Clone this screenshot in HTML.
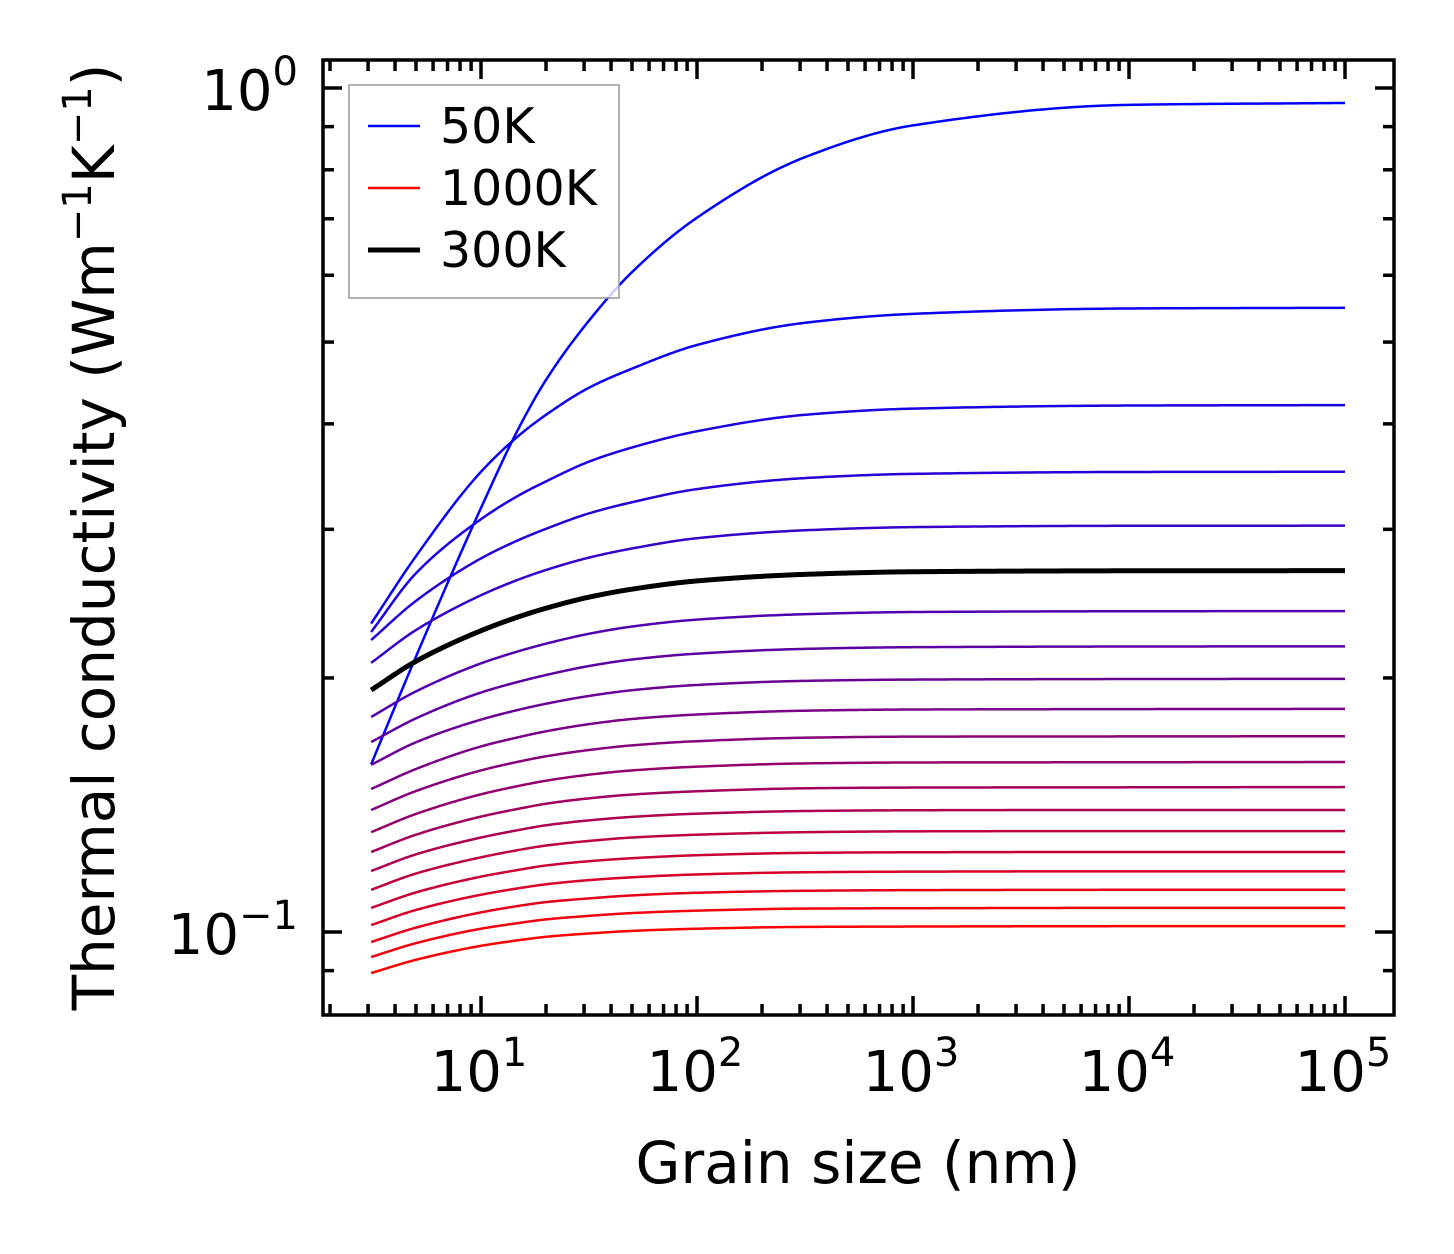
<!DOCTYPE html>
<html><head><meta charset="utf-8"><style>
body{margin:0;background:#fff;}
svg{display:block;font-family:"DejaVu Sans","Liberation Sans",sans-serif;}
</style></head><body>
<svg id="chart" width="1454" height="1254" viewBox="0 0 1454 1254" xmlns="http://www.w3.org/2000/svg">
<rect width="1454" height="1254" fill="#fff"/>
<g id="curves"></g>
<g id="axes"></g>
<g>
  <rect x="349" y="85" width="270" height="213" fill="#fff" fill-opacity="0.8" stroke="#999" stroke-width="1.5"/>
  <line x1="368" y1="126" x2="420" y2="126" stroke="#0000ff" stroke-width="2.5"/>
  <text x="440" y="143" font-size="49">50K</text>
  <line x1="368" y1="188" x2="420" y2="188" stroke="#ff0000" stroke-width="2.5"/>
  <text x="440" y="205" font-size="49">1000K</text>
  <line x1="368" y1="250" x2="420" y2="250" stroke="#000" stroke-width="5"/>
  <text x="440" y="267" font-size="49">300K</text>
</g>
<text x="858" y="1183" font-size="58" text-anchor="middle">Grain size (nm)</text>
<text transform="translate(114,537) rotate(-90)" font-size="58" text-anchor="middle">Thermal conductivity (Wm<tspan dy="-23" font-size="40">−1</tspan><tspan dy="23">K</tspan><tspan dy="-23" font-size="40">−1</tspan><tspan dy="23">)</tspan></text>
</svg>
<script>
// grain sizes (nm) at which each series is sampled
const grainSizes = [3.1, 5, 10, 15, 20, 31.6, 50, 100, 316, 1000, 10000, 100000];
// temperatures (K)
const temperatures = [50,100,150,200,250,300,350,400,450,500,550,600,650,700,750,800,850,900,950,1000];
const k50 = [0.158, 0.212, 0.318, 0.396, 0.451, 0.530, 0.605, 0.702, 0.828, 0.903, 0.955, 0.960];
const k100 = [0.232, 0.2788, 0.351, 0.3876, 0.410, 0.4414, 0.465, 0.496, 0.527, 0.540, 0.548, 0.549];
const k150 = [0.2267, 0.2661, 0.3084, 0.3292, 0.3419, 0.3608, 0.375, 0.392, 0.410, 0.417, 0.4205, 0.421];
const k200 = [0.2218, 0.2468, 0.2771, 0.2915, 0.3004, 0.3133, 0.323, 0.3348, 0.345, 0.349, 0.3508, 0.351];
const k250 = [0.2084, 0.2279, 0.2506, 0.2617, 0.2685, 0.2777, 0.2847, 0.2928, 0.2992, 0.3018, 0.3029, 0.303];
const k300 = [0.1935, 0.2093, 0.2275, 0.2364, 0.2419, 0.2493, 0.2548, 0.2606, 0.2653, 0.2672, 0.2679, 0.268];
const k350 = [0.1798, 0.1928, 0.2081, 0.2152, 0.2196, 0.2256, 0.2301, 0.2345, 0.238, 0.2394, 0.2399, 0.240];
const k400 = [0.1679, 0.1791, 0.1922, 0.1980, 0.2016, 0.2066, 0.2103, 0.2137, 0.2165, 0.2175, 0.2179, 0.218];
const k450 = [0.1578, 0.1678, 0.1785, 0.1834, 0.1864, 0.1904, 0.1934, 0.1962, 0.1984, 0.1991, 0.1994, 0.1995];
const k500 = [0.1477, 0.156, 0.1659, 0.1702, 0.1729, 0.1763, 0.1788, 0.181, 0.1829, 0.1835, 0.1837, 0.1838];
const k550 = [0.1395, 0.1469, 0.1554, 0.1592, 0.1615, 0.1643, 0.1664, 0.1683, 0.1699, 0.1704, 0.1705, 0.1706];
const k600 = [0.1313, 0.138, 0.1456, 0.1490, 0.1511, 0.1536, 0.1554, 0.157, 0.1584, 0.1588, 0.1589, 0.159];
const k650 = [0.1244, 0.1304, 0.137, 0.1400, 0.1419, 0.1440, 0.1455, 0.1468, 0.148, 0.1483, 0.1484, 0.1485];
const k700 = [0.1181, 0.1236, 0.1294, 0.1321, 0.1338, 0.1356, 0.1369, 0.1381, 0.1391, 0.1394, 0.1395, 0.1395];
const k750 = [0.1122, 0.1173, 0.1226, 0.1251, 0.1266, 0.1282, 0.1294, 0.1304, 0.1313, 0.1316, 0.1317, 0.1317];
const k800 = [0.1068, 0.1114, 0.1163, 0.1185, 0.1199, 0.1213, 0.1223, 0.1233, 0.1241, 0.1243, 0.1244, 0.1244];
const k850 = [0.1019, 0.1062, 0.1107, 0.1127, 0.1139, 0.1152, 0.1161, 0.117, 0.1177, 0.1179, 0.118, 0.118];
const k900 = [0.0973, 0.1012, 0.1055, 0.1074, 0.1085, 0.1096, 0.1105, 0.1113, 0.1119, 0.1121, 0.1122, 0.1122];
const k950 = [0.0934, 0.097, 0.1009, 0.1025, 0.1035, 0.1045, 0.1053, 0.106, 0.1066, 0.1067, 0.1068, 0.1068];
const k1000 = [0.0894, 0.0927, 0.0963, 0.0978, 0.0987, 0.0996, 0.1003, 0.1009, 0.1014, 0.1015, 0.1016, 0.1016];
const seriesValues = [k50,k100,k150,k200,k250,k300,k350,k400,k450,k500,k550,k600,k650,k700,k750,k800,k850,k900,k950,k1000];
const xTickLabels = ["1","2","3","4","5"];
const yTickLabels = ["−1","0"];

const NS = "http://www.w3.org/2000/svg";
const PL = 323, PR = 1394, PT = 60, PB = 1015;
function xScale(v){ return 481 + (Math.log10(v) - 1) * 216; }
function yScale(v){ return 88 - Math.log10(v) * 844; }
function mk(tag, attrs, parent){ const e = document.createElementNS(NS, tag); for (const k in attrs) e.setAttribute(k, attrs[k]); parent.appendChild(e); return e; }

// PCHIP (Fritsch-Butland) in log-log space
function curvePath(xs, ys){
  const X = xs.map(Math.log10), Y = ys.map(Math.log10), n = X.length;
  const h = [], d = [], m = [];
  for (let i=0;i<n-1;i++){ h.push(X[i+1]-X[i]); d.push((Y[i+1]-Y[i])/h[i]); }
  m[0] = d[0]; m[n-1] = d[n-2];
  for (let i=1;i<n-1;i++){
    if (d[i-1]*d[i] <= 0) m[i] = 0;
    else { const w1 = 2*h[i]+h[i-1], w2 = h[i]+2*h[i-1]; m[i] = (w1+w2)/(w1/d[i-1]+w2/d[i]); }
  }
  let p = "";
  for (let i=0;i<n-1;i++){
    for (let j=0;j<=40;j++){
      if (i>0 && j===0) continue;
      const t=j/40, t2=t*t, t3=t2*t;
      const y = (2*t3-3*t2+1)*Y[i] + (t3-2*t2+t)*h[i]*m[i] + (-2*t3+3*t2)*Y[i+1] + (t3-t2)*h[i]*m[i+1];
      const xx = X[i]+t*h[i];
      const px = 481 + (xx-1)*216, py = 88 - y*844;
      p += (p?"L":"M") + px.toFixed(2) + "," + py.toFixed(2);
    }
  }
  return p;
}

const cg = document.getElementById("curves");
let blackPath = null;
seriesValues.forEach((vals, i) => {
  const T = temperatures[i];
  const t = (T-50)/950;
  const col = "rgb(" + Math.round(255*t) + ",0," + Math.round(255*(1-t)) + ")";
  const isBlack = T === 300;
  const path = document.createElementNS(NS, "path");
  path.setAttribute("d", curvePath(grainSizes, vals));
  path.setAttribute("fill", "none");
  path.setAttribute("stroke", isBlack ? "#000" : col);
  path.setAttribute("stroke-width", isBlack ? "5" : "2.5");
  
  
  if (isBlack) blackPath = path; else cg.appendChild(path);
});
cg.appendChild(blackPath);

// axes
const ag = document.getElementById("axes");
const sw = 3.5;
const frame = mk("rect", {x:PL, y:PT, width:PR-PL, height:PB-PT, fill:"none", stroke:"#000", "stroke-width":sw}, ag);


for (let e=0;e<=5;e++){
  for (let k=1;k<=9;k++){
    const v = k*Math.pow(10,e);
    const x = xScale(v);
    if (x < PL+2 || x > PR-2) continue;
    const len = k===1 ? 19 : 11;
    mk("line",{x1:x,y1:PB,x2:x,y2:PB-len,stroke:"#000","stroke-width":sw},ag);
    mk("line",{x1:x,y1:PT,x2:x,y2:PT+len,stroke:"#000","stroke-width":sw},ag);
  }
}
xTickLabels.forEach((lab, i) => {
  const x = xScale(Math.pow(10, i+1));
  const tx = document.createElementNS(NS,"text");
  tx.setAttribute("x", x-2); tx.setAttribute("y", 1091);
  tx.setAttribute("font-size","56"); tx.setAttribute("text-anchor","middle");
  tx.innerHTML = '10<tspan dy="-25" font-size="40">' + lab + '</tspan>';
  
  
  ag.appendChild(tx);
});
for (let e=-2;e<=0;e++){
  for (let k=1;k<=9;k++){
    const v = k*Math.pow(10,e);
    const y = yScale(v);
    if (y < PT+2 || y > PB-2) continue;
    const len = k===1 ? 19 : 11;
    mk("line",{x1:PL,y1:y,x2:PL+len,y2:y,stroke:"#000","stroke-width":sw},ag);
    mk("line",{x1:PR,y1:y,x2:PR-len,y2:y,stroke:"#000","stroke-width":sw},ag);
  }
}
yTickLabels.forEach((lab, i) => {
  const y = yScale(Math.pow(10, i-1));
  const tx = document.createElementNS(NS,"text");
  tx.setAttribute("x", 298); tx.setAttribute("y", y+22);
  tx.setAttribute("font-size","56"); tx.setAttribute("text-anchor","end");
  tx.innerHTML = '10<tspan dy="-25" font-size="40">' + lab + '</tspan>';
  
  
  ag.appendChild(tx);
});
</script>
</body></html>
